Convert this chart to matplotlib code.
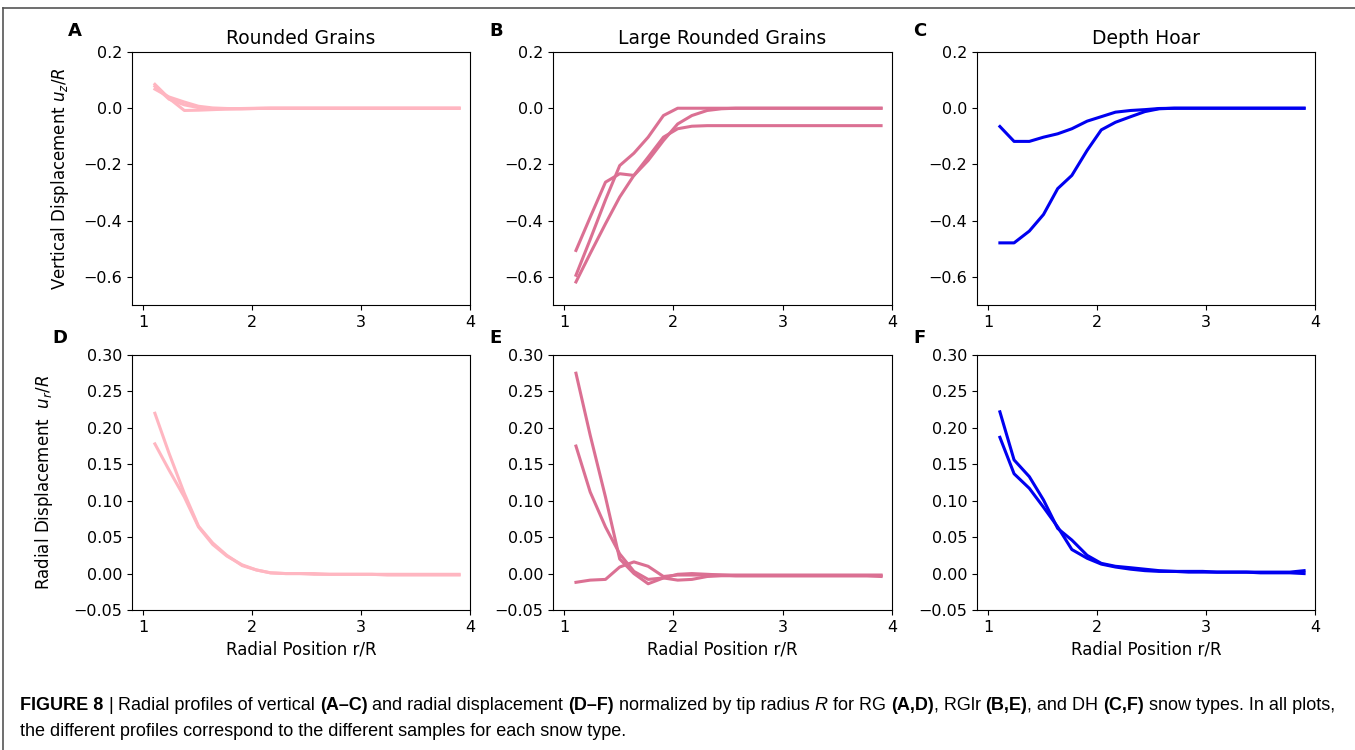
import matplotlib
matplotlib.use('Agg')
import matplotlib.pyplot as plt
from matplotlib.lines import Line2D
from matplotlib import font_manager

# radial positions r/R (same grid for every profile)
r = [1.11, 1.24, 1.38, 1.51, 1.64, 1.77, 1.91, 2.04, 2.17, 2.31, 2.44,
     2.57, 2.71, 2.84, 2.97, 3.10, 3.24, 3.37, 3.50, 3.64, 3.77, 3.90]

# vertical displacement uz/R
rg_uz = [
    [0.085, 0.035, -0.008, -0.007, -0.005, -0.003, -0.002, -0.001, 0.0, 0.0, 0.0,
     0.0, 0.0, 0.0, 0.0, 0.0, 0.0, 0.0, 0.0, 0.0, 0.0, 0.0],
    [0.068, 0.040, 0.022, 0.007, 0.001, -0.001, -0.002, -0.001, 0.0, 0.0, 0.0,
     0.0, 0.0, 0.0, 0.0, 0.0, 0.0, 0.0, 0.0, 0.0, 0.0, 0.0],
    [0.078, 0.032, 0.012, 0.002, -0.002, -0.002, -0.001, 0.0, 0.0, 0.0, 0.0,
     0.0, 0.0, 0.0, 0.0, 0.0, 0.0, 0.0, 0.0, 0.0, 0.0, 0.0],
]
rglr_uz = [
    [-0.506, -0.388, -0.263, -0.233, -0.239, -0.186, -0.115, -0.056, -0.026, -0.008, -0.002,
     0.0, 0.0, 0.0, 0.0, 0.0, 0.0, 0.0, 0.0, 0.0, 0.0, 0.0],
    [-0.594, -0.467, -0.326, -0.204, -0.160, -0.103, -0.026, 0.0, 0.0, 0.0, 0.0,
     0.0, 0.0, 0.0, 0.0, 0.0, 0.0, 0.0, 0.0, 0.0, 0.0, 0.0],
    [-0.618, -0.517, -0.411, -0.316, -0.239, -0.174, -0.103, -0.073, -0.064, -0.062, -0.062,
     -0.062, -0.062, -0.062, -0.062, -0.062, -0.062, -0.062, -0.062, -0.062, -0.062, -0.062],
]
dh_uz = [
    [-0.065, -0.118, -0.118, -0.103, -0.091, -0.073, -0.046, -0.030, -0.014, -0.008, -0.005,
     -0.001, 0.0, 0.0, 0.0, 0.0, 0.0, 0.0, 0.0, 0.0, 0.0, 0.0],
    [-0.479, -0.479, -0.437, -0.378, -0.286, -0.239, -0.150, -0.077, -0.050, -0.030, -0.012,
     -0.002, 0.0, 0.0, 0.0, 0.0, 0.0, 0.0, 0.0, 0.0, 0.0, 0.0],
]

# radial displacement ur/R
rg_ur = [
    [0.220, 0.165, 0.110, 0.065, 0.042, 0.025, 0.011, 0.005, 0.001, 0.0, 0.0,
     -0.001, -0.001, -0.001, -0.001, -0.001, -0.002, -0.002, -0.002, -0.002, -0.002, -0.002],
    [0.178, 0.142, 0.105, 0.064, 0.040, 0.024, 0.012, 0.005, 0.001, 0.0, 0.0,
     0.0, -0.001, -0.001, -0.001, -0.001, -0.001, -0.001, -0.001, -0.001, -0.001, -0.001],
]
rglr_ur = [
    [0.275, 0.190, 0.105, 0.020, 0.000, -0.014, -0.006, -0.001, 0.0, -0.001, -0.002,
     -0.002, -0.002, -0.002, -0.002, -0.002, -0.002, -0.002, -0.002, -0.002, -0.002, -0.002],
    [0.175, 0.112, 0.064, 0.027, 0.003, -0.008, -0.006, -0.009, -0.008, -0.004, -0.003,
     -0.003, -0.003, -0.003, -0.003, -0.003, -0.003, -0.003, -0.003, -0.003, -0.003, -0.003],
    [-0.012, -0.009, -0.008, 0.009, 0.016, 0.010, -0.004, -0.002, -0.002, -0.002, -0.002,
     -0.003, -0.003, -0.003, -0.003, -0.003, -0.003, -0.003, -0.003, -0.003, -0.003, -0.004],
]
dh_ur = [
    [0.222, 0.156, 0.133, 0.101, 0.062, 0.046, 0.025, 0.014, 0.010, 0.008, 0.006,
     0.004, 0.003, 0.003, 0.003, 0.002, 0.002, 0.002, 0.002, 0.002, 0.002, 0.004],
    [0.187, 0.137, 0.117, 0.091, 0.064, 0.033, 0.021, 0.013, 0.009, 0.006, 0.004,
     0.003, 0.003, 0.002, 0.002, 0.002, 0.002, 0.002, 0.001, 0.001, 0.001, 0.000],
]

titles = ['Rounded Grains', 'Large Rounded Grains', 'Depth Hoar']
letters = ['A', 'B', 'C', 'D', 'E', 'F']
colors = ['lightpink', 'palevioletred', '#0000f0']
top_data = [rg_uz, rglr_uz, dh_uz]
bot_data = [rg_ur, rglr_ur, dh_ur]

W, H = 1355, 750
fig = plt.figure(figsize=(W / 100, H / 100), dpi=100)

lefts = [132, 553, 977]
widths = [338, 339, 338]

for i in range(3):
    # top row
    ax = fig.add_axes([lefts[i] / W, 1 - 305 / H, widths[i] / W, 253 / H])
    for prof in top_data[i]:
        ax.plot(r, prof, color=colors[i], lw=2.2)
    ax.set_xlim(0.9, 4.0)
    ax.set_ylim(-0.7, 0.2)
    ax.set_xticks([1, 2, 3, 4])
    ax.set_yticks([0.2, 0.0, -0.2, -0.4, -0.6])
    ax.tick_params(labelsize=11.5)
    ax.set_title(titles[i], fontsize=13.5, pad=6)
    fig.text((lefts[i] - 64) / W, 1 - 31 / H, letters[i], fontsize=13,
             fontweight='bold', ha='left', va='center')
    if i == 0:
        ax.set_ylabel('Vertical Displacement $u_z/R$', fontsize=12)
        ax.yaxis.set_label_coords(-0.18, 0.5)

    # bottom row
    ax = fig.add_axes([lefts[i] / W, 1 - 610 / H, widths[i] / W, 255 / H])
    for prof in bot_data[i]:
        ax.plot(r, prof, color=colors[i], lw=2.2)
    ax.set_xlim(0.9, 4.0)
    ax.set_ylim(-0.05, 0.30)
    ax.set_xticks([1, 2, 3, 4])
    ax.set_yticks([-0.05, 0.0, 0.05, 0.10, 0.15, 0.20, 0.25, 0.30])
    ax.set_yticklabels(['\u22120.05', '0.00', '0.05', '0.10', '0.15', '0.20', '0.25', '0.30'])
    ax.tick_params(labelsize=11.5)
    ax.set_xlabel('Radial Position r/R', fontsize=12)
    fig.text((lefts[i] - 80 if i == 0 else lefts[i] - 64) / W, 1 - 338 / H, letters[i + 3],
             fontsize=13, fontweight='bold', ha='left', va='center')
    if i == 0:
        ax.set_ylabel('Radial Displacement  $u_r/R$', fontsize=12)
        ax.yaxis.set_label_coords(-0.228, 0.5)

# frame lines of the figure box
fig.add_artist(Line2D([3 / W, 3 / W], [0, 1 - 8 / H], color='#555555', lw=1.2,
                      transform=fig.transFigure))
fig.add_artist(Line2D([3 / W, 1], [1 - 8 / H, 1 - 8 / H], color='#555555', lw=1.2,
                      transform=fig.transFigure))

# caption with mixed bold / italic runs
cap_font = 'DejaVu Sans'
for name in ['Liberation Sans Narrow', 'DejaVu Sans Condensed', 'Liberation Sans']:
    try:
        font_manager.findfont(name, fallback_to_default=False)
        cap_font = name
        break
    except ValueError:
        pass

line1 = [('FIGURE 8', 'bold', 'normal'), (' | ', 'normal', 'normal'),
         ('Radial profiles of vertical ', 'normal', 'normal'), ('(A\u2013C)', 'bold', 'normal'),
         (' and radial displacement ', 'normal', 'normal'), ('(D\u2013F)', 'bold', 'normal'),
         (' normalized by tip radius ', 'normal', 'normal'), ('R', 'normal', 'italic'),
         (' for RG ', 'normal', 'normal'), ('(A,D)', 'bold', 'normal'),
         (', RGlr ', 'normal', 'normal'), ('(B,E)', 'bold', 'normal'),
         (', and DH ', 'normal', 'normal'), ('(C,F)', 'bold', 'normal'),
         (' snow types. In all plots,', 'normal', 'normal')]
line2 = [('the different profiles correspond to the different samples for each snow type.',
          'normal', 'normal')]

renderer = fig.canvas.get_renderer()


def text_w(s, size, weight='normal', style='normal'):
    t = fig.text(0, 0, s, family=cap_font, fontsize=size, fontweight=weight, fontstyle=style)
    w = t.get_window_extent(renderer).width
    t.remove()
    return w


def line_w(parts, size):
    sp = text_w('x x', size) - text_w('xx', size)
    total = 0
    for txt, weight, style in parts:
        core = txt.strip(' ')
        total += (len(txt) - len(core)) * sp + text_w(core, size, weight, style)
    return total


cap_size = 12
cap_size = min(14, cap_size * 1322 / line_w(line1, cap_size))


def draw_line(parts, x0, y):
    sp = text_w('x x', cap_size) - text_w('xx', cap_size)
    x = x0
    for txt, weight, style in parts:
        core = txt.strip(' ')
        lead = len(txt) - len(txt.lstrip(' '))
        trail = len(txt) - len(txt.rstrip(' '))
        x += lead * sp
        t = fig.text(x / W, 1 - y / H, core, family=cap_font, fontsize=cap_size,
                     fontweight=weight, fontstyle=style, ha='left', va='center')
        x += t.get_window_extent(renderer).width + trail * sp


draw_line(line1, 20, 705)
draw_line(line2, 20, 732)

fig.savefig('out.png', dpi=100)
